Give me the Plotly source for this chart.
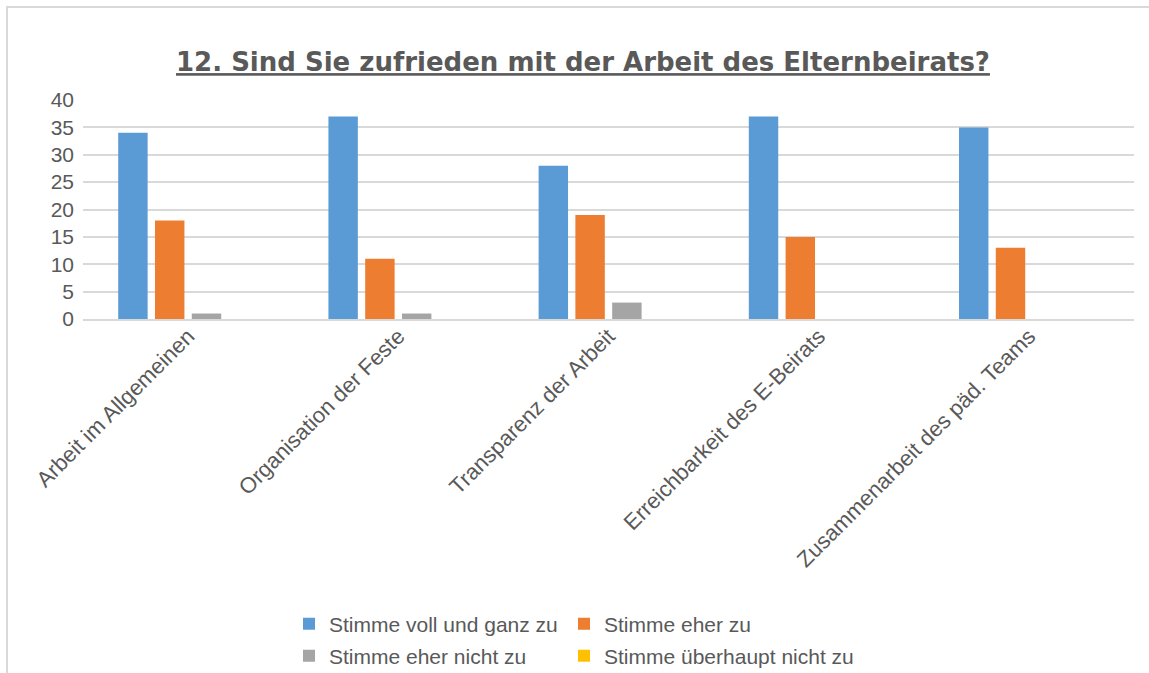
import plotly.graph_objects as go

categories = ["Arbeit im Allgemeinen", "Organisation der Feste", "Transparenz der Arbeit",
              "Erreichbarkeit des E-Beirats", "Zusammenarbeit des päd. Teams"]
series_names = ["Stimme voll und ganz zu", "Stimme eher zu", "Stimme eher nicht zu", "Stimme überhaupt nicht zu"]
voll = [34, 37, 28, 37, 35]
eher = [18, 11, 19, 15, 13]
eher_nicht = [1, 1, 3, 0, 0]
ueberhaupt_nicht = [0, 0, 0, 0, 0]
colors = ["#5B9BD5", "#ED7D31", "#A5A5A5", "#FFC000"]
values = [voll, eher, eher_nicht, ueberhaupt_nicht]
legend_ids = ["legend", "legend2", "legend3", "legend4"]
legend_pos = [(289, 624), (564, 624), (289, 656), (564, 656)]

fig = go.Figure()
for name, vals, col, lg in zip(series_names, values, colors, legend_ids):
    fig.add_trace(go.Bar(x=categories, y=vals, name=name, marker_color=col,
                         marker_line_width=0, legend=lg))

W, H = 1149, 673
L, R, T, B = 83, 15, 100, 354
pw, ph = W - L - R, H - T - B

font_main = "Liberation Sans, Arial, sans-serif"
leg_common = dict(orientation="h", xref="container", yref="container", xanchor="left",
                  yanchor="middle", font=dict(size=21, color="#595959"), itemwidth=30,
                  tracegroupgap=0, bgcolor="rgba(0,0,0,0)")
legend_layout = {lid: dict(x=px / W, y=1 - py / H, **leg_common)
                 for lid, (px, py) in zip(legend_ids, legend_pos)}

fig.update_layout(
    width=W, height=H,
    margin=dict(l=L, r=R, t=T, b=B, autoexpand=False),
    paper_bgcolor="white", plot_bgcolor="white",
    barmode="group", bargap=0.3, bargroupgap=0.2,
    title=dict(text="<b><u>12. Sind Sie zufrieden mit der Arbeit des Elternbeirats?</u></b>",
               x=583 / W, xanchor="center", xref="container", y=1 - 62 / H, yref="container",
               yanchor="middle",
               font=dict(family="DejaVu Sans, sans-serif", size=26, color="#595959")),
    font=dict(family=font_main, color="#595959"),
    yaxis=dict(range=[0, 40], dtick=5, showgrid=True, gridcolor="#D9D9D9", gridwidth=1.5,
               zeroline=False, showline=False, tickfont=dict(size=21, color="#595959"),
               ticks="", ticklabelstandoff=8, fixedrange=True, automargin=False),
    xaxis=dict(tickangle=-45, tickfont=dict(size=22, color="#595959"), showline=True,
               linecolor="#D9D9D9", linewidth=1.5, ticks="", automargin=False,
               ticklabelstandoff=-6),
    showlegend=True,
    **legend_layout,
)
fig.add_shape(type="rect", xref="paper", yref="paper",
              x0=(7 - L) / pw, x1=(1170 - L) / pw,
              y0=(T + ph - 700) / ph, y1=(T + ph - 7) / ph,
              line=dict(color="#D9D9D9", width=2), fillcolor="rgba(0,0,0,0)", layer="below")

fig.write_html("out.html", config={"displayModeBar": False},
               post_script="document.body.style.margin='0px';")
